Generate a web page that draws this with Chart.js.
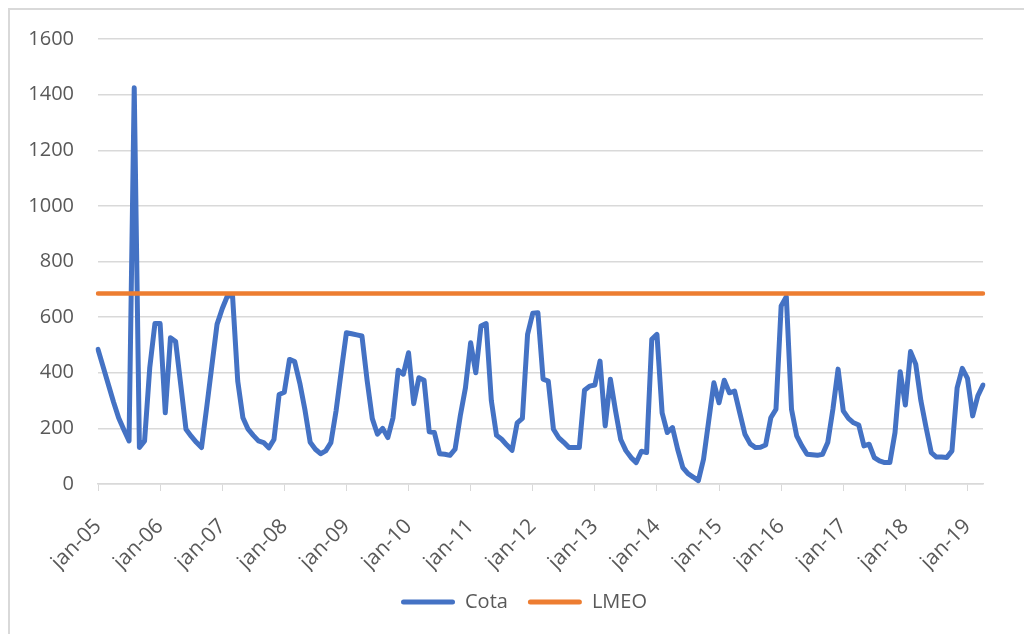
<!DOCTYPE html>
<html>
<head>
<meta charset="utf-8">
<script src="https://cdn.jsdelivr.net/npm/chart.js@4.4.1/dist/chart.umd.min.js"></script>
<style>
  html, body { margin: 0; padding: 0; background: #fff; }
  #wrap { position: relative; width: 1024px; height: 634px; overflow: hidden; }
  #moldura { position: absolute; left: 8px; top: 8px; width: 1100px; height: 700px;
             border-left: 2px solid #d9d9d9; border-top: 2px solid #d9d9d9; }
  canvas { position: absolute; left: 0; top: 0; }
</style>
</head>
<body>
<div id="wrap">
  <div id="moldura"></div>
  <canvas id="graficoCota" width="1024" height="634"></canvas>
</div>
<script>
// Meses e anos do eixo x
const meses = ['jan', 'fev', 'mar', 'abr', 'mai', 'jun', 'jul', 'ago', 'set', 'out', 'nov', 'dez'];
const anos = ['05', '06', '07', '08', '09', '10', '11', '12', '13', '14', '15', '16', '17', '18', '19'];

// Cota mensal por ano
const cota2005 = [484, 421, 358, 295, 237, 195, 155, 1425, 131, 155, 418, 577];
const cota2006 = [577, 256, 526, 512, 355, 197, 172, 150, 131, 275, 425, 574];
const cota2007 = [630, 676, 676, 370, 238, 197, 175, 155, 149, 130, 160, 322];
const cota2008 = [330, 448, 440, 362, 265, 150, 125, 109, 119, 149, 263, 406];
const cota2009 = [544, 540, 536, 532, 372, 235, 179, 200, 167, 238, 409, 395];
const cota2010 = [472, 289, 382, 373, 188, 185, 109, 107, 103, 125, 245, 346];
const cota2011 = [508, 400, 568, 577, 300, 175, 161, 140, 121, 220, 236, 538];
const cota2012 = [614, 616, 377, 370, 197, 167, 150, 131, 131, 131, 337, 352];
const cota2013 = [356, 442, 209, 377, 263, 160, 120, 95, 77, 118, 113, 520];
const cota2014 = [538, 256, 185, 203, 125, 59, 37, 25, 12, 89, 227, 364];
const cota2015 = [292, 373, 328, 334, 256, 179, 145, 131, 132, 140, 238, 269];
const cota2016 = [640, 673, 269, 173, 137, 107, 105, 103, 107, 149, 269, 413];
const cota2017 = [263, 236, 220, 212, 137, 143, 95, 83, 77, 77, 185, 404];
const cota2018 = [284, 476, 431, 299, 203, 113, 97, 97, 95, 119, 346, 416];
const cota2019 = [380, 245, 317, 356];

const LMEO = 685;

const valoresCota = [].concat(cota2005, cota2006, cota2007, cota2008, cota2009, cota2010, cota2011,
  cota2012, cota2013, cota2014, cota2015, cota2016, cota2017, cota2018, cota2019);

const rotulos = [];
anos.forEach(function (a) {
  meses.forEach(function (m) { rotulos.push(m + '-' + a); });
});
rotulos.length = valoresCota.length;

const valoresLMEO = rotulos.map(() => LMEO);

const fonte = { family: '"Open Sans", sans-serif', size: 20 };
const cinza = '#595959';

const dataCota = {
  labels: rotulos,
  datasets: [{
    label: 'Cota',
    data: valoresCota,
    borderColor: '#4472C4',
    backgroundColor: '#4472C4',
    borderWidth: 5,
    order: 2
  }, {
    label: 'LMEO',
    data: valoresLMEO,
    borderColor: '#ED7D31',
    backgroundColor: '#ED7D31',
    borderWidth: 4.5,
    order: 1
  }]
};

const configCota = {
  type: 'line',
  data: dataCota,
  options: {
    responsive: false,
    animation: false,
    layout: { padding: { top: 39, left: 24, right: 0, bottom: 12 } },
    elements: {
      point: { radius: 0 },
      line: { tension: 0, borderJoinStyle: 'round', borderCapStyle: 'round' }
    },
    scales: {
      x: {
        offset: false,
        grid: { drawOnChartArea: false, tickLength: 7, color: '#d9d9d9' },
        border: { display: true, color: '#d9d9d9', width: 1.5 },
        ticks: {
          autoSkip: false, minRotation: 45, maxRotation: 45, padding: 23,
          color: cinza, font: { family: fonte.family, size: 21 },
          callback: function (v, i) { return i % 12 === 0 ? this.getLabelForValue(v) : null; }
        },
        afterFit: function (s) { s.height = 88; }
      },
      y: {
        min: 0, max: 1600,
        ticks: { stepSize: 200, padding: 24, color: cinza, font: fonte,
                 callback: function (v) { return String(v); } },
        grid: { color: '#d9d9d9', lineWidth: 1.5, drawTicks: false },
        border: { display: false },
        afterFit: function (s) { s.width = 74; }
      },
      direita: {
        position: 'right',
        grid: { display: false },
        ticks: { display: false },
        border: { display: false },
        afterFit: function (s) { s.width = 41; }
      }
    },
    plugins: {
      legend: {
        position: 'bottom',
        labels: {
          boxWidth: 54, boxHeight: 5, useBorderRadius: true, borderRadius: 2.5,
          padding: 20, color: cinza, font: fonte,
          sort: function (a, b) { return a.datasetIndex - b.datasetIndex; },
          generateLabels: function (chart) {
            return Chart.defaults.plugins.legend.labels.generateLabels(chart)
              .map(function (it) { it.lineWidth = 0; return it; });
          }
        }
      },
      tooltip: { enabled: false }
    }
  }
};

const graficoCota = new Chart(document.getElementById('graficoCota'), configCota);
</script>
</body>
</html>
